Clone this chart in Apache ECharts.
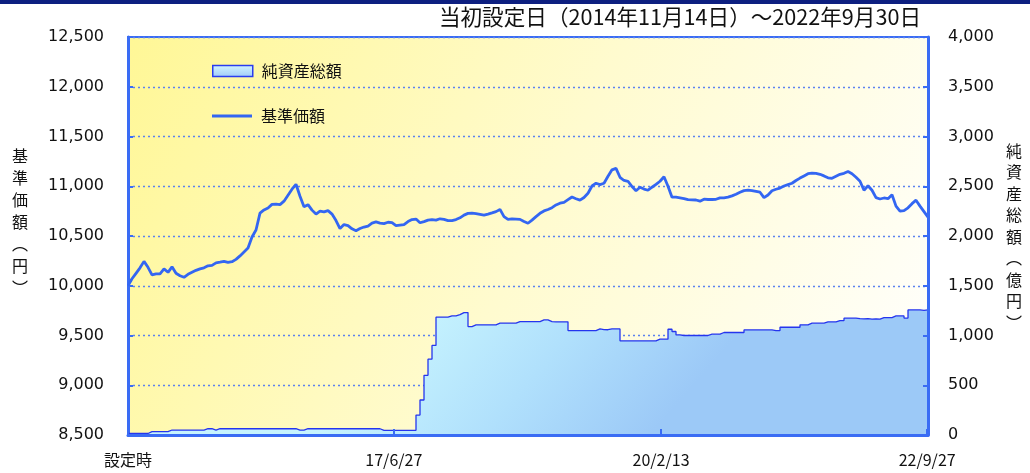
<!DOCTYPE html>
<html><head><meta charset="utf-8">
<script src="https://cdn.jsdelivr.net/npm/echarts@6/dist/echarts.min.js"></script>
<style>html,body{margin:0;padding:0;background:#fff;}#c{width:1030px;height:473px;}</style>
</head><body><div id="c"></div>
<script>
const startDate = '2014-11-14';
const endDate = '2022-09-30';
const sampleCount = 201;
const xTickDates = ['2014-11-14', '2017-06-27', '2020-02-13', '2022-09-27'];
const xTickLabels = ['設定時', '17/6/27', '20/2/13', '22/9/27'];
const navTicks = [8500, 9000, 9500, 10000, 10500, 11000, 11500, 12000, 12500];
const assetTicks = [0, 500, 1000, 1500, 2000, 2500, 3000, 3500, 4000];
const seriesNames = ['純資産総額', '基準価額'];
const titleText = '当初設定日（2014年11月14日）～2022年9月30日';
const leftAxisName = ['基','準','価','額','︵','円','︶'];
const rightAxisName = ['純','資','産','総','額','︵','億','円','︶'];

const navValues = [
10000,10070,10125,10180,10245,10185,10110,10120,10120,10170,
10135,10190,10125,10100,10085,10115,10135,10155,10170,10180,
10200,10205,10230,10237,10245,10235,10242,10265,10300,10340,
10380,10490,10560,10730,10762,10782,10818,10820,10815,10850,
10910,10970,11020,10900,10795,10815,10760,10720,10750,10742,
10755,10720,10655,10575,10615,10605,10572,10553,10575,10590,
10600,10630,10642,10630,10625,10638,10635,10605,10610,10615,
10645,10665,10670,10633,10645,10660,10665,10660,10673,10667,
10655,10655,10665,10683,10710,10727,10730,10725,10717,10709,
10720,10732,10745,10767,10695,10667,10672,10670,10667,10645,
10628,10660,10695,10728,10752,10766,10785,10812,10830,10838,
10865,10892,10875,10860,10887,10930,11003,11030,11017,11030,
11100,11165,11180,11090,11058,11050,10997,10955,10990,10972,
10960,10990,11018,11050,11095,11000,10890,10890,10883,10876,
10865,10864,10862,10850,10870,10867,10867,10869,10883,10883,
10890,10903,10920,10940,10956,10960,10956,10948,10940,10885,
10912,10955,10970,10982,11002,11016,11030,11058,11082,11104,
11126,11132,11130,11120,11104,11085,11080,11100,11120,11130,
11148,11125,11090,11050,10960,11005,10960,10885,10872,10882,
10875,10915,10800,10750,10755,10783,10825,10860,10800,10745,
10690];

const assetValues = [
15,15,15,15,15,33,33,33,33,33,
50,50,50,50,50,50,50,50,50,63,
63,50,63,63,63,63,63,63,63,63,
63,63,63,63,63,63,63,63,63,63,
63,63,50,50,63,63,63,63,63,63,
63,63,63,63,63,63,63,63,63,63,
63,63,63,47,47,47,47,47,47,47,
47,47,200,352,600,762,900,1184,1184,1184,
1197,1197,1210,1230,1230,1090,1107,1107,1107,1107,
1107,1107,1124,1124,1124,1124,1124,1140,1140,1140,
1140,1140,1140,1157,1157,1140,1137,1137,1137,1137,
1049,1049,1049,1049,1049,1049,1049,1066,1060,1058,
1066,1066,1066,946,946,946,946,946,946,946,
946,946,963,963,963,1063,1040,1006,1000,1000,
1000,1000,1000,1000,1000,1013,1013,1013,1030,1030,
1030,1030,1030,1030,1056,1056,1056,1056,1056,1056,
1056,1050,1050,1083,1083,1083,1083,1083,1107,1107,
1124,1124,1124,1124,1137,1137,1137,1150,1150,1174,
1174,1174,1170,1168,1170,1165,1168,1165,1180,1180,
1180,1197,1197,1197,1175,1257,1257,1257,1252,1257,
1250];

const t0 = Date.UTC(2014, 10, 14);
const t1 = Date.UTC(2022, 8, 30);
const sampleTimes = [];
for (let i = 0; i < sampleCount; i++) sampleTimes.push(Math.round(t0 + (t1 - t0) * i / (sampleCount - 1)));
const tickTimes = xTickDates.map(d => new Date(d + 'T00:00:00Z').getTime());

const FONT = "'DejaVu Sans','Noto Sans CJK JP',sans-serif";
const JFONT = "'Noto Sans CJK JP',sans-serif";
const G = echarts.graphic;
const AXIS_BLUE = '#3a6cf4';

const chart = echarts.init(document.getElementById('c'), null, {renderer: 'canvas'});
chart.setOption({
  animation: false,
  backgroundColor: '#ffffff',
  grid: {
    left: 128, right: 102, top: 37, bottom: 38,
    show: true, borderWidth: 2, borderColor: AXIS_BLUE,
    backgroundColor: new G.LinearGradient(0, 0, 1, 1, [
      {offset: 0, color: '#fff796'}, {offset: 0.5, color: '#fffbcf'}, {offset: 1, color: '#ffffff'}
    ])
  },
  graphic: [
    {type: 'rect', shape: {x: 0, y: 0, width: 1030, height: 4}, style: {fill: '#0d1f80'}, z: 10},
    {type: 'text', x: 921, y: 6, style: {text: titleText, font: "21.6px 'Noto Sans CJK JP'", fill: '#111', textAlign: 'right'}},
    {type: 'text', x: 20, y: 145, style: {text: leftAxisName.join('\n'), font: "16px 'Noto Sans CJK JP'", lineHeight: 22, fill: '#111', textAlign: 'center'}},
    {type: 'text', x: 1014, y: 140, style: {text: rightAxisName.join('\n'), font: "16px 'Noto Sans CJK JP'", lineHeight: 21.5, fill: '#111', textAlign: 'center'}}
  ],
  legend: [
    {left: 207, top: 58, itemWidth: 40, itemHeight: 11,
      textStyle: {fontFamily: JFONT, fontSize: 16, color: '#111', padding: [0, 0, 0, 4]},
      data: [{name: seriesNames[0], icon: 'rect', itemStyle: {
        color: new G.LinearGradient(0, 0, 0, 1, [{offset: 0, color: '#d4f6ff'}, {offset: 1, color: '#9fcaf8'}]),
        borderColor: '#2a3cf0', borderWidth: 1.5}}]},
    {left: 207, top: 103, itemWidth: 40, itemHeight: 3,
      textStyle: {fontFamily: JFONT, fontSize: 16, color: '#111', padding: [0, 0, 0, 4]},
      data: [{name: seriesNames[1], icon: 'rect', itemStyle: {color: '#3366f2', borderWidth: 0}}]}
  ],
  xAxis: {
    type: 'value', min: t0, max: t1, scale: true, z: 10,
    axisLine: {show: true, onZero: false, lineStyle: {color: AXIS_BLUE, width: 3}},
    axisTick: {show: true, inside: true, length: 6, customValues: tickTimes, lineStyle: {color: AXIS_BLUE, width: 2}},
    axisLabel: {customValues: tickTimes, fontFamily: JFONT, fontSize: 16, color: '#111', margin: 17,
      formatter: function (v) {
        let k = -1, best = Infinity;
        tickTimes.forEach((t, j) => { const d = Math.abs(t - v); if (d < best) { best = d; k = j; } });
        return best < 86400000 * 2 ? xTickLabels[k] : '';
      }},
    splitLine: {show: false}
  },
  yAxis: [
    {type: 'value', min: navTicks[0], max: navTicks[navTicks.length - 1], interval: 500, position: 'left',
      axisLine: {show: true, lineStyle: {color: AXIS_BLUE, width: 3}},
      axisTick: {show: true, inside: true, length: 5, lineStyle: {color: AXIS_BLUE, width: 2}},
      axisLabel: {fontFamily: FONT, fontSize: 16, color: '#111', margin: 24,
        formatter: v => v.toLocaleString('en-US')},
      splitLine: {show: true, lineStyle: {color: '#5b82f0', type: [2, 3], width: 1.3}}},
    {type: 'value', min: assetTicks[0], max: assetTicks[assetTicks.length - 1], interval: 500, position: 'right', z: 10,
      axisLine: {show: true, lineStyle: {color: AXIS_BLUE, width: 3}},
      axisTick: {show: true, inside: true, length: 5, lineStyle: {color: AXIS_BLUE, width: 2}},
      axisLabel: {fontFamily: FONT, fontSize: 16, color: '#111', margin: 20,
        formatter: v => v.toLocaleString('en-US')},
      splitLine: {show: false}}
  ],
  series: [
    {name: seriesNames[0], type: 'line', yAxisIndex: 1, step: 'end', symbol: 'none',
      data: sampleTimes.map((t, i) => [t, assetValues[i]]),
      lineStyle: {color: '#2535ee', width: 1.3},
      itemStyle: {color: '#9fcaf8'},
      areaStyle: {opacity: 1, color: new G.LinearGradient(430, 305, 620, 470, [
        {offset: 0, color: '#c6f3fe'}, {offset: 0.5, color: '#b0e0fc'}, {offset: 1, color: '#9cc9f7'}], true)},
      z: 2},
    {name: seriesNames[1], type: 'line', yAxisIndex: 0, symbol: 'none',
      data: sampleTimes.map((t, i) => [t, navValues[i]]),
      lineStyle: {color: '#3366f2', width: 2.8},
      itemStyle: {color: '#3366f2'},
      z: 3}
  ]
});
</script></body></html>
